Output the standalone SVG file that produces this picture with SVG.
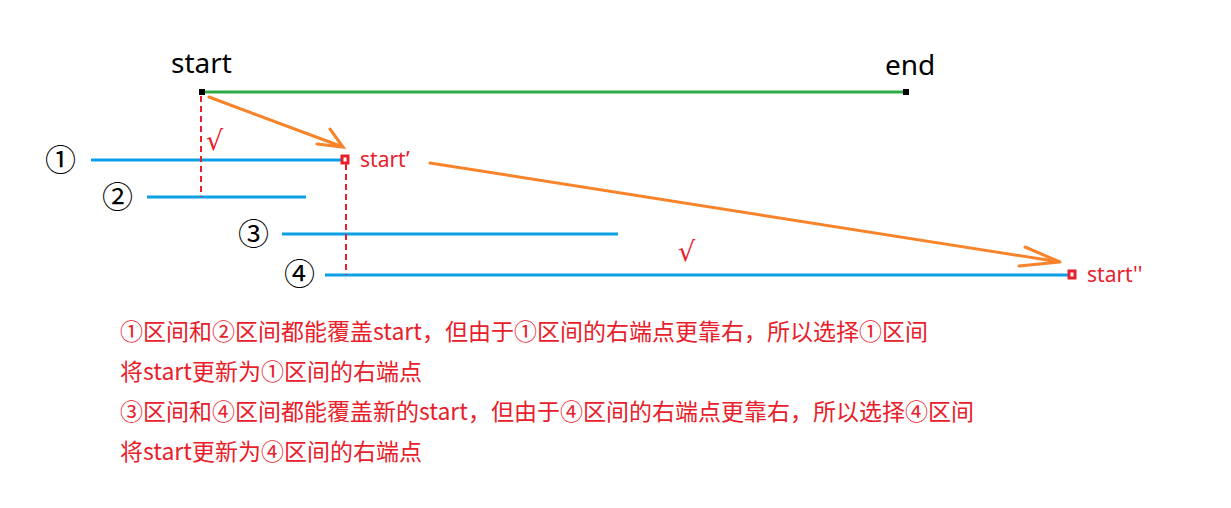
<svg xmlns="http://www.w3.org/2000/svg" width="1231" height="508" viewBox="0 0 1231 508">
<style>
.lbl{font-family:"Noto Sans","Open Sans",sans-serif;}
.blk{fill:#000;font-size:28px;}
.red{fill:#e8202a;font-size:21px;}
.num{font-family:"Noto Sans CJK SC","DejaVu Sans",sans-serif;font-size:31px;fill:#000;}
.iv{stroke:#0aa0e4;stroke-width:3;}
.dash{stroke:#e8202a;stroke-width:2;stroke-dasharray:6,4;fill:none;}
.orange{stroke:#f7842a;stroke-width:3;fill:none;stroke-linecap:round;}
.note{font-family:"Noto Sans CJK SC","Microsoft YaHei",sans-serif;font-size:23px;fill:#e8202a;}
.chk{font-family:"DejaVu Sans",sans-serif;font-size:27px;fill:#e8202a;}
.sq{fill:#fff;stroke:#e8202a;stroke-width:3;}
</style>
<rect width="1231" height="508" fill="#fff"/>
<g id="segment-start-end">
<line x1="202" y1="92" x2="906" y2="92" stroke="#2aab47" stroke-width="3"/>
<rect x="199" y="89" width="6" height="6" fill="#000"/>
<rect x="903" y="89" width="6" height="6" fill="#000"/>
<text class="lbl blk" x="171" y="73">start</text>
<text class="lbl blk" x="885" y="75">end</text>
</g>
<g id="interval-1">
<text class="num" x="45" y="171">①</text>
<line class="iv" x1="91" y1="160" x2="345" y2="160"/>
<rect class="sq" x="342" y="156" width="6" height="7"/>
<text class="lbl red" x="360" y="167">start’</text>
</g>
<g id="interval-2">
<text class="num" x="102" y="208">②</text>
<line class="iv" x1="147" y1="197" x2="306" y2="197"/>
</g>
<g id="interval-3">
<text class="num" x="238" y="245">③</text>
<line class="iv" x1="282" y1="234" x2="618" y2="234"/>
</g>
<g id="interval-4">
<text class="num" x="284" y="285">④</text>
<line class="iv" x1="325" y1="275" x2="1072" y2="275"/>
<rect class="sq" x="1069" y="271" width="6" height="7"/>
<text class="lbl red" x="1087" y="282">start''</text>
</g>
<g id="connectors">
<line class="dash" x1="201" y1="96" x2="201" y2="197"/>
<line class="dash" x1="346" y1="164" x2="346" y2="275"/>
<path class="orange" d="M209,97 L343,147 M330,129 L343,147 L317,144"/>
<path class="orange" d="M430,163 L1060,262 M1025,247 L1060,262 L1019,266"/>
<text class="chk" x="206" y="150">√</text>
<text class="chk" x="678" y="261">√</text>
</g>
<g id="notes">
<text class="note" x="120" y="340">①区间和②区间都能覆盖start，但由于①区间的右端点更靠右，所以选择①区间</text>
<text class="note" x="120" y="380">将start更新为①区间的右端点</text>
<text class="note" x="120" y="420">③区间和④区间都能覆盖新的start，但由于④区间的右端点更靠右，所以选择④区间</text>
<text class="note" x="120" y="460">将start更新为④区间的右端点</text>
</g>
</svg>
